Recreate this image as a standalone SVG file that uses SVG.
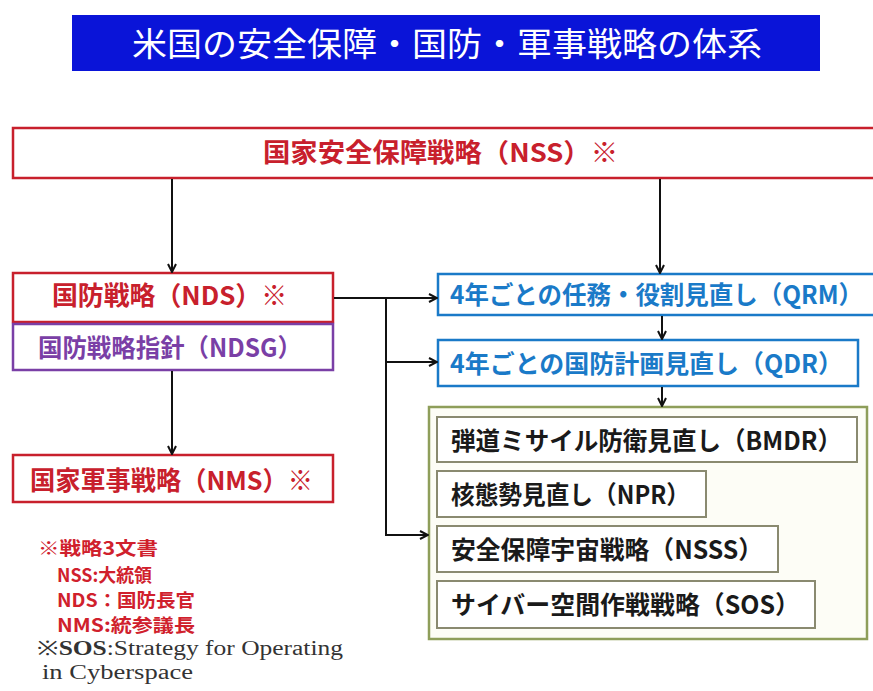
<svg xmlns="http://www.w3.org/2000/svg" width="873" height="691" viewBox="0 0 873 691">
<defs>
<style>
.jp{font-family:"Noto Sans CJK JP","Noto Sans",sans-serif;font-weight:700}
.red{fill:none;stroke:#c8202c;stroke-width:2.5}
.tred{fill:#c8202c;font-size:26px}
.purple{fill:none;stroke:#7a3fa6;stroke-width:2.5}
.tpur{fill:#7a3fa6;font-size:25px}
.blue{fill:none;stroke:#1a7ac8;stroke-width:2.5}
.tblue{fill:#1a7ac8;font-size:25px}
.gbox{fill:#fdfdf6;stroke:#8e9e5a;stroke-width:2.5}
.ibox{fill:#ffffff;stroke:#8a8a70;stroke-width:2}
.tblk{fill:#1a1a1a;font-size:25px}
.conn{fill:none;stroke:#111;stroke-width:2}
.note{fill:#d0202c;font-size:18px}
.ser{font-family:"Liberation Serif",serif;fill:#333;font-size:20px}
</style>
<marker id="ah" viewBox="0 0 10 10" refX="9" refY="5" markerWidth="10" markerHeight="10" markerUnits="userSpaceOnUse" orient="auto">
<path d="M1,1 L9,5 L1,9" fill="none" stroke="#111" stroke-width="2"/>
</marker>
</defs>
<rect width="873" height="691" fill="#ffffff"/>

<g id="title">
<rect x="72" y="15" width="748" height="56" fill="#0a14d8"/>
<text x="132" y="56" class="jp" style="font-weight:400" fill="#ffffff" font-size="33" textLength="630" lengthAdjust="spacingAndGlyphs">米国の安全保障・国防・軍事戦略の体系</text>
</g>

<g id="nss">
<rect x="13" y="128" width="870" height="50" class="red"/>
<text x="263" y="162" class="jp tred" textLength="355" lengthAdjust="spacingAndGlyphs">国家安全保障戦略（NSS）※</text>
</g>

<g id="nds">
<rect x="13" y="273" width="320" height="49" class="red"/>
<text x="52" y="305" class="jp tred" textLength="235" lengthAdjust="spacingAndGlyphs">国防戦略（NDS）※</text>
</g>

<g id="ndsg">
<rect x="13" y="324" width="320" height="46" class="purple"/>
<text x="38" y="357" class="jp tpur" textLength="264" lengthAdjust="spacingAndGlyphs">国防戦略指針（NDSG）</text>
</g>

<g id="nms">
<rect x="13" y="455" width="320" height="47" class="red"/>
<text x="30" y="490" class="jp tred" textLength="283" lengthAdjust="spacingAndGlyphs">国家軍事戦略（NMS）※</text>
</g>

<g id="qrm">
<rect x="438" y="274" width="445" height="41" class="blue"/>
<text x="450" y="304" class="jp tblue" textLength="413" lengthAdjust="spacingAndGlyphs">4年ごとの任務・役割見直し（QRM）</text>
</g>

<g id="qdr">
<rect x="438" y="340" width="420" height="46" class="blue"/>
<text x="450" y="373" class="jp tblue" textLength="393" lengthAdjust="spacingAndGlyphs">4年ごとの国防計画見直し（QDR）</text>
</g>

<g id="reviews">
<rect x="429" y="407" width="438" height="232" class="gbox"/>
<g id="bmdr">
<rect x="437" y="417" width="420" height="45" class="ibox"/>
<text x="451" y="450" class="jp tblk" textLength="391" lengthAdjust="spacingAndGlyphs">弾道ミサイル防衛見直し（BMDR）</text>
</g>
<g id="npr">
<rect x="437" y="471" width="269" height="46" class="ibox"/>
<text x="451" y="504" class="jp tblk" textLength="239" lengthAdjust="spacingAndGlyphs">核態勢見直し（NPR）</text>
</g>
<g id="nsss">
<rect x="437" y="526" width="341" height="46" class="ibox"/>
<text x="451" y="559" class="jp tblk" textLength="312" lengthAdjust="spacingAndGlyphs">安全保障宇宙戦略（NSSS）</text>
</g>
<g id="sos">
<rect x="437" y="581" width="378" height="47" class="ibox"/>
<text x="451" y="614" class="jp tblk" textLength="349" lengthAdjust="spacingAndGlyphs">サイバー空間作戦戦略（SOS）</text>
</g>
</g>

<g id="connectors">
<line x1="172" y1="179" x2="172" y2="272" class="conn" marker-end="url(#ah)"/>
<line x1="660" y1="179" x2="660" y2="273" class="conn" marker-end="url(#ah)"/>
<line x1="334" y1="298" x2="437" y2="298" class="conn" marker-end="url(#ah)"/>
<polyline points="386,298 386,535 428,535" class="conn" marker-end="url(#ah)"/>
<line x1="386" y1="362" x2="437" y2="362" class="conn" marker-end="url(#ah)"/>
<line x1="662" y1="316" x2="662" y2="339" class="conn" marker-end="url(#ah)"/>
<line x1="662" y1="387" x2="662" y2="406" class="conn" marker-end="url(#ah)"/>
<line x1="172" y1="371" x2="172" y2="454" class="conn" marker-end="url(#ah)"/>
</g>

<g id="notes">
<text x="38" y="555" class="jp note" textLength="120" lengthAdjust="spacingAndGlyphs">※戦略3文書</text>
<text x="57" y="582" class="jp note" textLength="95" lengthAdjust="spacingAndGlyphs">NSS:大統領</text>
<text x="57" y="607" class="jp note" textLength="138" lengthAdjust="spacingAndGlyphs">NDS：国防長官</text>
<text x="57" y="632" class="jp note" textLength="138" lengthAdjust="spacingAndGlyphs">NMS:統参議長</text>
<text x="37" y="655" class="ser" textLength="306" lengthAdjust="spacingAndGlyphs">※<tspan font-weight="bold">SOS</tspan>:Strategy for Operating</text>
<text x="42" y="679" class="ser" textLength="151" lengthAdjust="spacingAndGlyphs">in Cyberspace</text>
</g>
</svg>
